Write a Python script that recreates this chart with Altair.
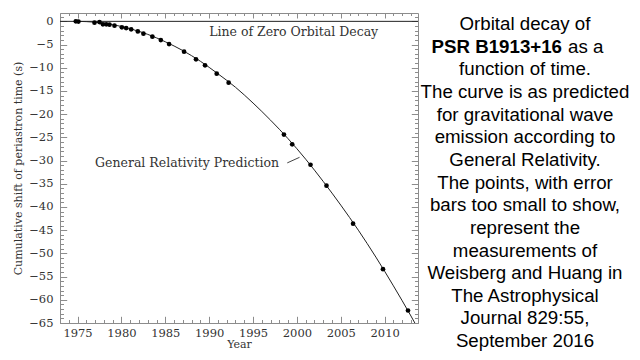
import altair as alt
import pandas as pd

# measured points (year, cumulative shift in s)
years = [1974.8, 1975.1, 1976.93, 1977.50, 1977.89, 1978.27, 1978.64, 1979.21, 1980.05,
         1980.54, 1981.11, 1981.87, 1982.51, 1983.53, 1984.49, 1985.43, 1987.14,
         1988.50, 1989.53, 1990.86, 1992.22, 1998.52, 1999.46, 2001.55, 2003.37,
         2006.40, 2009.81, 2012.66]
shifts = [0.0, -0.05, -0.28, -0.15, -0.65, -0.65, -0.71, -0.93, -1.29,
          -1.44, -1.72, -2.16, -2.66, -3.30, -4.03, -4.89, -6.53,
          -8.19, -9.48, -11.27, -13.21, -24.4, -26.5, -30.9, -35.4,
          -43.6, -53.4, -62.3]

# GR prediction curve
curve_years = [1975, 1977, 1979, 1981, 1983, 1985, 1987, 1989, 1991, 1993, 1995,
               1997, 1999, 2001, 2003, 2005, 2007, 2009, 2011, 2013, 2014]
curve_shift = [0.0, -0.18, -0.70, -1.6, -2.8, -4.4, -6.3, -8.6, -11.3, -14.2, -17.6,
               -21.3, -25.3, -29.7, -34.5, -39.6, -45.0, -50.8, -57.0, -63.5, -66.9]

x_major = list(range(1975, 2015, 5))
x_minor = list(range(1973, 2014))
y_major = list(range(-65, 1, 5))
y_minor = list(range(-65, 2))

zero_line = [0]
gr_label = ["General Relativity Prediction"]
zero_label = ["Line of Zero Orbital Decay"]

panel_lines = [
    "Orbital decay of",
    None,  # bold line handled separately
    "function of time.",
    "The curve is as predicted",
    "for gravitational wave",
    "emission according to",
    "General Relativity.",
    "The points, with error",
    "bars too small to show,",
    "represent the",
    "measurements of",
    "Weisberg and Huang in",
    "The Astrophysical",
    "Journal 829:55,",
    "September 2016",
]
bold_part = "PSR B1913+16"
rest_part = "as a"

pts = pd.DataFrame({"year": years, "shift": shifts})
crv = pd.DataFrame({"year": curve_years, "shift": curve_shift})

FONT = "DejaVu Serif"
GRAY = "#8c8c8c"
INK = "#333333"

xscale = alt.Scale(domain=[1973, 2013.8], nice=False, zero=False)
yscale = alt.Scale(domain=[-65, 1.8], nice=False, zero=False)


def axis(orient, values, size, labels=False, title=None, pad=0, tpad=0, fmt=None):
    kw = dict(orient=orient, values=values, tickSize=size, offset=-size,
              domain=False, grid=False, tickColor=GRAY, tickWidth=1,
              labels=labels, title=title)
    if labels:
        kw.update(labelFont=FONT, labelFontSize=11.5, labelColor=INK,
                  labelPadding=pad, labelFlush=False, labelOverlap=False)
    if fmt:
        kw.update(format=fmt)
    if title:
        kw.update(titleFont=FONT, titleFontSize=11, titleColor=INK,
                  titleFontWeight="normal", titlePadding=tpad)
    return alt.Axis(**kw)


curve = alt.Chart(crv).mark_line(color="#222222", strokeWidth=1, clip=True,
                                 interpolate="monotone").encode(
    x=alt.X("year:Q", scale=xscale,
            axis=axis("bottom", x_major, 6.7, labels=True, title="Year", pad=4, tpad=0, fmt="d")),
    y=alt.Y("shift:Q", scale=yscale,
            axis=axis("left", y_major, 6.7, labels=True,
                      title="Cumulative shift of periastron time (s)", pad=7, tpad=5)),
)

points = alt.Chart(pts).mark_circle(color="black", size=22, opacity=1).encode(
    x=alt.X("year:Q", scale=xscale, axis=axis("bottom", x_minor, 3.5)),
    y=alt.Y("shift:Q", scale=yscale, axis=axis("left", y_minor, 3.5)),
)

ghost1 = alt.Chart(crv).mark_line(opacity=0).encode(
    x=alt.X("year:Q", scale=xscale, axis=axis("top", x_major, 5)),
    y=alt.Y("shift:Q", scale=yscale, axis=axis("right", y_major, 6.7)),
)
ghost2 = alt.Chart(crv).mark_line(opacity=0).encode(
    x=alt.X("year:Q", scale=xscale, axis=axis("top", x_minor, 2.5)),
    y=alt.Y("shift:Q", scale=yscale, axis=axis("right", y_minor, 3.5)),
)

zero = alt.Chart(pd.DataFrame({"shift": zero_line})).mark_rule(
    color="#222222", strokeWidth=1).encode(
    y=alt.Y("shift:Q", scale=yscale, axis=None))

ann_df = pd.DataFrame({"year": [1977.0, 1990.0], "shift": [-31.4, -3.2],
                       "label": gr_label + zero_label})
ann = alt.Chart(ann_df).mark_text(font=FONT, fontSize=12.5, color=INK, align="left",
                                  baseline="alphabetic").encode(
    x=alt.X("year:Q", scale=xscale, axis=None),
    y=alt.Y("shift:Q", scale=yscale, axis=None),
    text="label:N",
)

leader = alt.Chart(pd.DataFrame({"year": [1998.9], "shift": [-30.5],
                                 "year2": [2000.3], "shift2": [-29.3]})).mark_rule(
    color="#444444", strokeWidth=1).encode(
    x=alt.X("year:Q", scale=xscale, axis=None), x2="year2:Q",
    y=alt.Y("shift:Q", scale=yscale, axis=None), y2="shift2:Q",
)

PX0, PY0 = 60, 13
SANS = "Liberation Sans"
FS = 18.7
layers = [zero, curve, points, ghost1, ghost2, ann, leader]
for i, line in enumerate(panel_lines):
    yb = 30 + 22.65 * i - PY0
    if line is None:
        layers.append(alt.Chart(pd.DataFrame({"t": [bold_part]})).mark_text(
            font=SANS, fontSize=FS, fontWeight="bold", color="black", align="right",
            baseline="alphabetic").encode(text="t:N", x=alt.value(562 - PX0), y=alt.value(yb)))
        layers.append(alt.Chart(pd.DataFrame({"t": [rest_part]})).mark_text(
            font=SANS, fontSize=FS, color="black", align="left",
            baseline="alphabetic").encode(text="t:N", x=alt.value(568 - PX0), y=alt.value(yb)))
    else:
        layers.append(alt.Chart(pd.DataFrame({"t": [line]})).mark_text(
            font=SANS, fontSize=FS, color="black", align="center",
            baseline="alphabetic").encode(text="t:N", x=alt.value(525 - PX0), y=alt.value(yb)))

chart = alt.layer(*layers).resolve_axis(x="independent", y="independent").properties(
    width=358, height=310,
    padding={"left": 52, "top": 5, "right": 214, "bottom": 29},
    autosize=alt.AutoSizeParams(type="none"),
    background="white",
).configure_view(stroke=GRAY, strokeWidth=1)

chart.save("out.html", embed_options={"renderer": "svg", "actions": False})
